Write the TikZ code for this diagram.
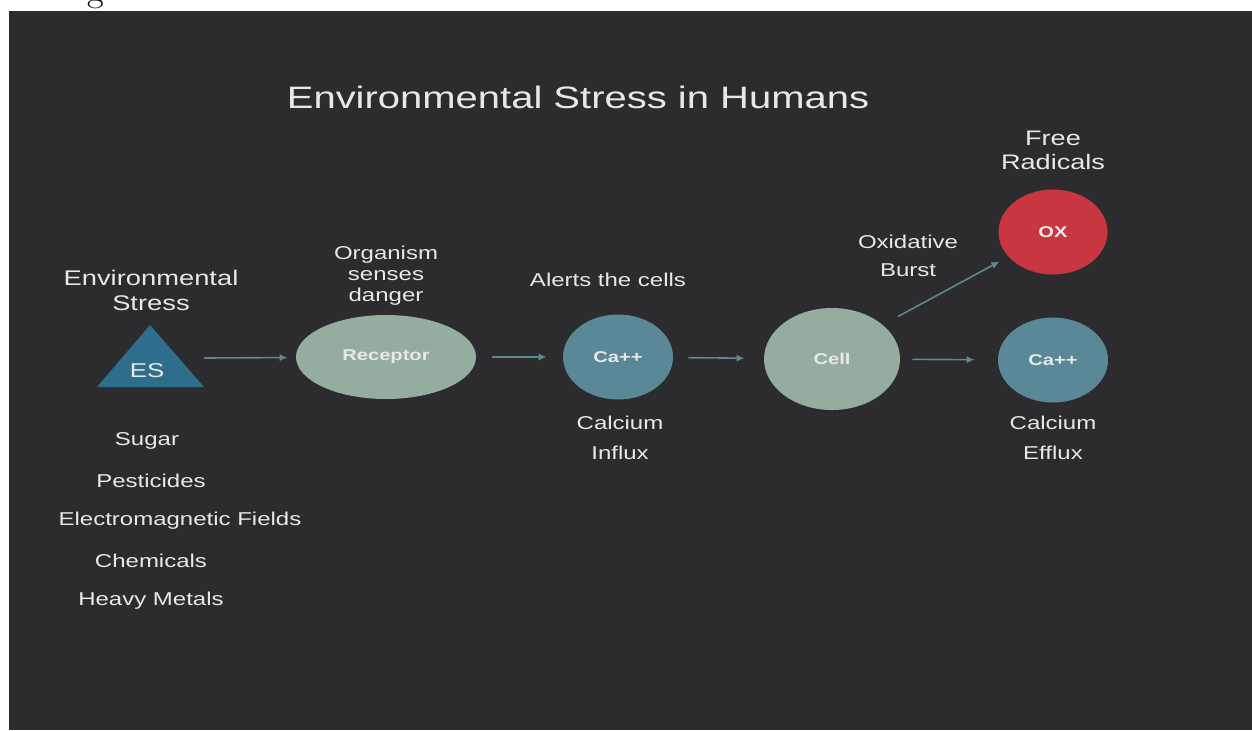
\documentclass[tikz,border=0pt]{standalone}
\usepackage{fontspec}
\newfontfamily\arialfont[FakeStretch=1.29]{Liberation Sans}
\usepackage{tikz}
\usetikzlibrary{shapes, positioning, arrows.meta}
\definecolor{slate}{HTML}{2C2C2E}
\definecolor{paper}{HTML}{E8E8E8}
\definecolor{esblue}{HTML}{2E6D8C}
\definecolor{sage}{HTML}{95AD9E}
\definecolor{ionteal}{HTML}{5A8896}
\definecolor{radred}{HTML}{C83741}
\definecolor{arrowteal}{HTML}{5F8791}

\begin{document}
\begin{tikzpicture}[x=0.5pt, y=-0.5pt,
    caption/.style={text=paper,
      align=center,
      inner sep=0pt,
      font=\arialfont\fontsize{9.3}{15}\selectfont},
    heading/.style={caption,
      font=\arialfont\fontsize{10.6}{12.5}\selectfont},
    stage/.style={ellipse,
      fill=#1,
      inner sep=0pt,
      text=paper,
      font=\arialfont\bfseries\fontsize{7.8}{10}\selectfont},
    flow/.style={draw=arrowteal,
      line width=0.8pt,
      -{Latex[length=4pt,width=3.6pt]}}]
  \useasboundingbox (0,0) rectangle (1252,730);

  % BACKGROUND

  \fill[slate] (9,11) rectangle (1252,730);
  \node[font=\fontsize{18}{18}\selectfont, anchor=base, inner sep=0pt] (glyph) at (96,1) {g};

  \node[caption, font=\arialfont\fontsize{15.5}{20}\selectfont] (title) at (578,97) {Environmental Stress in Humans};

  % STRESS SOURCE

  \fill[esblue] (97,387) -- (150,325) -- (204,387) -- cycle;
  \node[caption, font=\arialfont\fontsize{10}{12}\selectfont] (es) at (147,371) {ES};
  \coordinate (esside) at (204,358);

  \node[heading] (envtitle) at (151,290) {Environmental\\Stress};

  \node[caption] (sugar) at (147,441) {Sugar};
  \node[caption, below=20pt of sugar.center,
    anchor=center, xshift=2pt] (pesticides) {Pesticides};
  \node[caption, below=20pt of pesticides.center,
    anchor=center, xshift=14.5pt] (emfields) {Electromagnetic Fields};
  \node[caption, below=20pt of emfields.center,
    anchor=center, xshift=-14.5pt] (chemicals) {Chemicals};
  \node[caption, below=20pt of chemicals.center,
    anchor=center] (metals) {Heavy Metals};

  % RESPONSE CHAIN

  \node[stage=sage, minimum width=90pt, minimum height=42pt] (receptor) at (386,357) {Receptor};
  \node[caption, font=\arialfont\fontsize{9.3}{10.5}\selectfont] (senses) at (386,276) {Organism\\senses\\danger};

  \node[stage=ionteal, minimum width=55pt, minimum height=42.5pt] (influxion) at (618,357) {Ca++};
  \node[caption] (alerts) at (608,280) {Alerts the cells};
  \node[caption] (influx) at (620,438) {Calcium\\Influx};

  \node[stage=sage, minimum width=68pt, minimum height=51pt] (cell) at (832,359) {Cell};

  \node[stage=ionteal, minimum width=55pt, minimum height=42.5pt] (effluxion) at (1053,360) {Ca++};
  \node[caption] (efflux) at (1053,438) {Calcium\\Efflux};

  \node[stage=radred, minimum width=54.5pt, minimum height=42.5pt] (ox) at (1053,232) {OX};
  \node[heading, font=\arialfont\fontsize{10.5}{12}\selectfont] (radicals) at (1053,150) {Free\\Radicals};
  \node[caption, font=\arialfont\fontsize{9.3}{14}\selectfont] (burst) at (908,256) {Oxidative\\Burst};

  % ARROWS

  \draw[flow, shorten >=4pt] (esside) -- (receptor);
  \draw[flow, shorten <=8pt, shorten >=8pt] (receptor) -- (influxion);
  \draw[flow, shorten <=7.5pt, shorten >=9.5pt] (influxion) -- (cell);
  \draw[flow, shorten <=6pt, shorten >=11.5pt] (cell) -- (effluxion);
  \draw[flow, shorten <=8.7pt, shorten >=5pt] (cell.34) -- (ox.209);

\end{tikzpicture}
\end{document}
